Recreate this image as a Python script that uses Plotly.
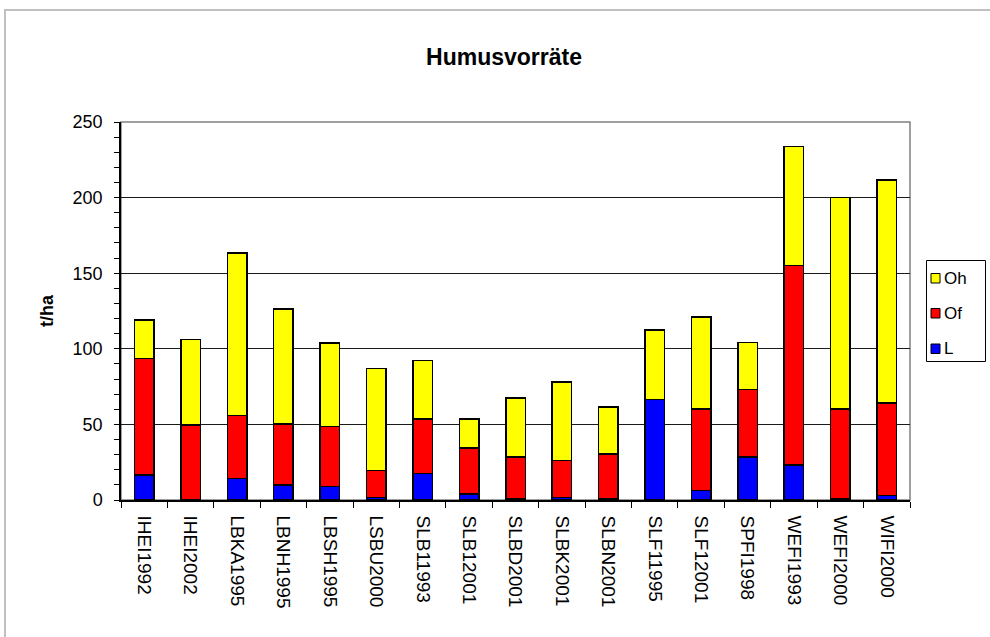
import plotly.graph_objects as go

categories = ["IHEI1992", "IHEI2002", "LBKA1995", "LBNH1995", "LBSH1995", "LSBU2000",
              "SLB11993", "SLB12001", "SLBD2001", "SLBK2001", "SLBN2001", "SLF11995",
              "SLF12001", "SPFI1998", "WEFI1993", "WEFI2000", "WIFI2000"]
L_values = [16.6, 0.0, 14.3, 10.0, 9.0, 1.7, 17.6, 4.0, 0.7, 1.7, 0.7, 66.5, 6.2, 28.3, 23.2, 0.7, 2.9]
Of_values = [77.0, 49.7, 41.6, 40.4, 39.6, 17.7, 36.1, 30.5, 27.6, 24.4, 29.8, 0.0, 53.9, 44.8, 132.0, 59.4, 61.4]
Oh_values = [25.4, 56.4, 107.6, 75.8, 55.3, 67.5, 38.7, 19.2, 39.3, 51.9, 30.9, 45.8, 61.0, 31.0, 78.6, 139.9, 147.4]
series_names = ["L", "Of", "Oh"]
series_colors = ["#0000FF", "#FF0000", "#FFFF00"]

FONT = "Liberation Sans, Arial, sans-serif"

fig = go.Figure()
for name, vals, col in zip(series_names, [L_values, Of_values, Oh_values], series_colors):
    fig.add_trace(go.Bar(x=categories, y=vals, name=name, showlegend=False,
                         marker=dict(color=col, line=dict(color="#000000", width=1.5))))

W, H = 990, 637
l, r, t, b = 121, 80, 122, 137
pw, ph = W - l - r, H - t - b

def px_x(x):
    return (x - l) / pw

def px_y(y):
    return (H - b - y) / ph

shapes = [
    dict(type="rect", xref="paper", yref="paper", x0=0, x1=1, y0=0, y1=1,
         line=dict(color="#808080", width=1.5), layer="below"),
    dict(type="rect", xref="paper", yref="paper", x0=px_x(5), x1=px_x(1010),
         y0=px_y(660), y1=px_y(10), line=dict(color="#C0C0C0", width=2), layer="below"),
    # legend box
    dict(type="rect", xref="paper", yref="paper", x0=px_x(926.5), x1=px_x(985.5),
         y0=px_y(361.5), y1=px_y(260.5), line=dict(color="#000000", width=1),
         fillcolor="#FFFFFF", layer="above"),
]
annotations = [
    dict(text="<b>t/ha</b>", xref="paper", yref="paper", x=px_x(47), y=px_y(311),
         xanchor="center", yanchor="middle", textangle=-90, showarrow=False,
         font=dict(size=18, family=FONT)),
]
legend_rows = [("Oh", "#FFFF00", 278), ("Of", "#FF0000", 313), ("L", "#0000FF", 348.5)]
for name, col, cy in legend_rows:
    shapes.append(dict(type="rect", xref="paper", yref="paper",
                       x0=px_x(931), x1=px_x(940), y0=px_y(cy + 5), y1=px_y(cy - 4.5),
                       line=dict(color="#000000", width=1), fillcolor=col, layer="above"))
    annotations.append(dict(text=name, xref="paper", yref="paper", x=px_x(942), y=px_y(cy),
                            xanchor="left", yanchor="middle", showarrow=False,
                            font=dict(size=17, family=FONT)))

fig.update_layout(
    width=W, height=H,
    margin=dict(l=l, r=r, t=t, b=b, pad=0),
    barmode="stack",
    bargap=0.58,
    showlegend=False,
    plot_bgcolor="#FFFFFF",
    paper_bgcolor="#FFFFFF",
    font=dict(family=FONT, size=16, color="#000000"),
    title=dict(text="<b>Humusvorräte</b>", x=504 / W, xanchor="center",
               y=1 - 57 / H, yanchor="middle", font=dict(size=23, family=FONT)),
    xaxis=dict(showline=True, linecolor="#000000", linewidth=1.5,
               ticks="outside", ticklen=6, tickcolor="#000000", tickson="boundaries",
               tickangle=90, showgrid=False, tickfont=dict(size=19),
               ticklabelstandoff=10),
    yaxis=dict(range=[0, 250], dtick=50, showline=True, linecolor="#000000", linewidth=1.5,
               ticks="outside", ticklen=5, tickcolor="#000000",
               showgrid=True, gridcolor="#1a1a1a", gridwidth=1,
               minor=dict(dtick=10, ticks="outside", ticklen=5, tickcolor="#000000", showgrid=False),
               tickfont=dict(size=18), zeroline=False, ticklabelstandoff=8),
    shapes=shapes,
    annotations=annotations,
)

fig.write_html("out.html", config={"displayModeBar": False},
               post_script="document.body.style.margin='0';document.body.style.overflow='hidden';")
